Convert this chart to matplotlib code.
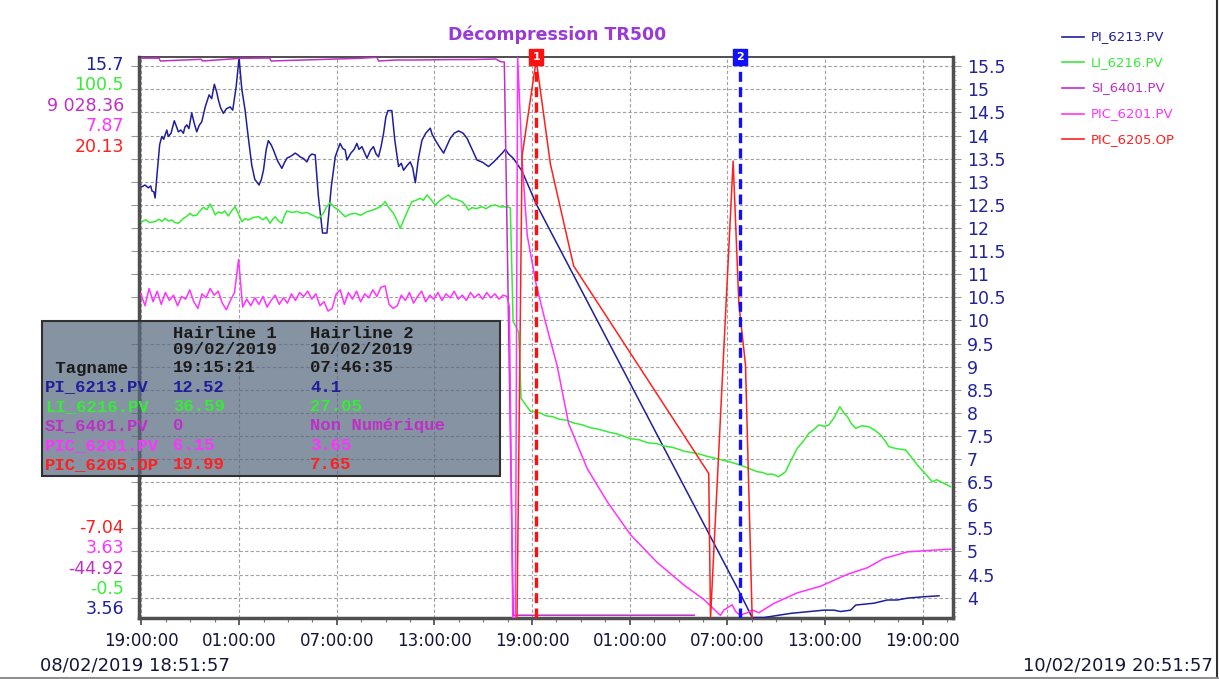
import datetime as dt

import numpy as np
import matplotlib
matplotlib.use("Agg")
import matplotlib.pyplot as plt
from matplotlib.lines import Line2D
from matplotlib.patches import Rectangle
from matplotlib.ticker import FixedLocator, FuncFormatter

plt.rcParams['font.family'] = 'DejaVu Sans'

W, H = 1219, 679
# plot frame in pixels
X0, X1, Y0, Y1 = 139.3, 953.0, 57.0, 618.0

START = dt.datetime(2019, 2, 8, 18, 51, 57)
SPAN_H = 50.0

TITLE = "Décompression TR500"
pens = ["PI_6213.PV", "LI_6216.PV", "SI_6401.PV", "PIC_6201.PV", "PIC_6205.OP"]
colors = ["#1f1f9c", "#36ec36", "#bf2fc8", "#ff33ff", "#ff1f1f"]
scale_lo = [3.56, -0.5, -44.92, 3.63, -7.04]
scale_hi = [15.7, 100.5, 9028.36, 7.87, 20.13]
lo_labels = ["3.56", "-0.5", "-44.92", "3.63", "-7.04"]
hi_labels = ["15.7", "100.5", "9 028.36", "7.87", "20.13"]

hairlines = ["09/02/2019 19:15:21", "10/02/2019 07:46:35"]
hair1_vals = ["12.52", "36.59", "0", "6.15", "19.99"]
hair2_vals = ["4.1", "27.05", "Non Numérique", "3.65", "7.65"]

# hours since START
pi_t = [0.15, 0.35, 0.55, 0.70, 0.78, 0.90, 0.97, 1.10, 1.25, 1.38, 1.50, 1.69, 1.78, 1.95, 2.15,
        2.28, 2.40, 2.55, 2.71, 2.80, 2.92, 3.05, 3.22, 3.35, 3.53, 3.68, 3.84, 4.05, 4.29, 4.45,
        4.61, 4.75, 4.86, 5.00, 5.17, 5.35, 5.58, 5.74, 5.95, 6.13, 6.30, 6.50, 6.70, 6.91, 7.10,
        7.36, 7.50, 7.63, 7.80, 7.93, 8.10, 8.24, 8.50, 8.76, 8.90, 9.07, 9.30, 9.58, 9.75, 9.88,
        10.10, 10.30, 10.45, 10.60, 10.81, 11.00, 11.26, 11.53, 11.80, 12.04, 12.20, 12.34, 12.50,
        12.65, 12.76, 13.00, 13.20, 13.37, 13.50, 13.68, 13.85, 13.99, 14.20, 14.39, 14.55, 14.70,
        14.85, 15.01, 15.15, 15.28, 15.52, 15.70, 15.93, 16.10, 16.24, 16.45, 16.65, 16.80, 16.96,
        17.15, 17.37, 17.60, 17.88, 18.00, 18.19, 18.45, 18.70, 18.90, 19.11, 19.35, 19.62, 19.90,
        20.14, 20.45, 20.75, 21.10, 21.46, 21.75, 22.08, 22.30, 22.49, 22.70, 23.00, 23.52, 24.39,
        36.91, 37.66, 38.38, 40.02, 42.07, 42.68, 43.09, 43.71, 44.02, 45.14, 45.97, 46.58, 47.20,
        48.22, 49.14]
pi_v = [12.89, 12.93, 12.87, 12.91, 12.80, 12.78, 12.65, 13.20, 13.80, 13.98, 13.92, 14.12, 13.98,
        14.05, 14.32, 14.20, 14.08, 14.12, 14.05, 14.18, 14.23, 14.15, 14.49, 14.30, 14.08, 14.22,
        14.30, 14.62, 14.88, 14.80, 15.11, 14.95, 14.77, 14.60, 14.48, 14.58, 14.62, 14.55, 15.05,
        15.68, 15.00, 14.55, 13.95, 13.36, 13.05, 12.93, 13.05, 13.25, 13.70, 13.89, 13.80, 13.69,
        13.45, 13.29, 13.40, 13.51, 13.55, 13.62, 13.58, 13.54, 13.50, 13.43, 13.55, 13.60, 13.58,
        12.70, 11.89, 11.89, 12.90, 13.54, 13.70, 13.83, 13.72, 13.69, 13.47, 13.62, 13.70, 13.83,
        13.70, 13.76, 13.62, 13.51, 13.68, 13.76, 13.60, 13.54, 13.75, 14.05, 14.40, 14.54, 14.54,
        13.90, 13.33, 13.40, 13.25, 13.35, 13.43, 13.30, 12.98, 13.50, 13.90, 14.05, 14.16, 14.02,
        13.90, 13.75, 13.62, 13.78, 13.94, 14.05, 14.10, 14.05, 13.94, 13.70, 13.47, 13.42, 13.33,
        13.42, 13.54, 13.62, 13.70, 13.60, 13.50, 13.23, 12.52, 4.10, 3.57, 3.57, 3.66, 3.73, 3.73,
        3.70, 3.73, 3.84, 3.88, 3.95, 3.95, 3.99, 4.02, 4.04]

li_t = [0.15, 0.40, 0.60, 0.97, 1.20, 1.40, 1.58, 1.80, 1.99, 2.20, 2.40, 2.70, 2.90, 3.12, 3.30,
        3.53, 3.70, 3.94, 4.15, 4.35, 4.50, 4.66, 4.85, 5.07, 5.25, 5.47, 5.70, 5.89, 6.10, 6.30,
        6.50, 6.70, 7.00, 7.32, 7.60, 7.80, 8.04, 8.20, 8.35, 8.55, 8.76, 8.90, 9.07, 9.40, 9.70,
        9.99, 10.30, 10.60, 10.80, 11.01, 11.30, 11.50, 11.73, 12.00, 12.24, 12.45, 12.65, 12.95,
        13.27, 13.60, 13.99, 14.30, 14.60, 14.85, 15.11, 15.35, 15.62, 15.85, 16.03, 16.30, 16.55,
        16.75, 17.00, 17.26, 17.45, 17.68, 17.90, 18.19, 18.45, 18.70, 19.00, 19.20, 19.45, 19.83,
        20.05, 20.23, 20.45, 20.70, 21.06, 21.30, 21.60, 21.88, 22.20, 22.60, 22.80, 22.97, 23.31,
        23.46, 24.03, 24.39, 24.64, 25.00, 25.40, 25.80, 26.29, 26.70, 27.20, 27.72, 28.20, 28.80,
        29.40, 30.18, 30.70, 31.30, 31.80, 32.23, 32.80, 33.50, 34.28, 34.90, 35.60, 36.30, 36.91,
        37.40, 37.97, 38.30, 38.59, 38.90, 39.30, 39.71, 40.10, 40.43, 40.80, 41.14, 41.40, 41.76,
        42.10, 42.37, 42.70, 43.05, 43.30, 43.51, 43.75, 44.02, 44.40, 44.83, 45.20, 45.55, 45.80,
        46.06, 46.50, 47.09, 47.40, 47.81, 48.20, 48.73, 49.00, 49.24, 49.55, 49.86]
li_v = [70.85, 71.20, 70.70, 70.85, 71.30, 70.90, 71.46, 70.95, 71.16, 70.70, 70.56, 71.40, 71.80,
        72.36, 71.90, 72.06, 72.70, 73.44, 73.00, 74.04, 73.20, 72.06, 72.60, 72.36, 72.80, 71.88,
        72.90, 73.55, 72.20, 70.85, 71.40, 71.16, 71.60, 71.75, 71.20, 71.70, 70.56, 71.30, 71.75,
        71.00, 70.56, 71.80, 72.78, 72.50, 72.70, 72.36, 72.50, 72.06, 71.80, 71.46, 72.30, 73.50,
        74.27, 73.40, 72.96, 72.30, 71.75, 72.20, 72.36, 72.00, 72.65, 72.90, 73.26, 73.60, 74.45,
        73.30, 72.36, 71.00, 69.66, 71.50, 73.20, 74.45, 74.70, 75.06, 74.70, 75.66, 74.90, 73.86,
        74.60, 75.10, 75.66, 75.00, 74.90, 74.45, 73.80, 72.96, 73.40, 73.20, 73.55, 73.20, 73.70,
        73.86, 73.50, 73.55, 73.32, 52.90, 50.92, 39.04, 36.73, 36.59, 36.41, 35.90, 35.75, 35.30,
        35.08, 34.60, 34.30, 33.76, 33.50, 33.00, 32.60, 31.78, 31.60, 31.00, 30.90, 30.47, 30.20,
        29.50, 29.13, 28.60, 28.10, 27.60, 27.05, 26.50, 25.84, 25.70, 25.37, 25.40, 24.94, 25.84,
        28.20, 30.05, 31.30, 32.75, 33.30, 34.25, 34.00, 34.25, 35.60, 37.54, 36.40, 35.74, 34.50,
        33.65, 34.10, 33.94, 33.30, 32.45, 31.50, 30.34, 30.00, 29.75, 28.60, 27.05, 25.80, 24.04,
        24.40, 24.04, 23.60, 23.14]

si_t = [0.15, 1.20, 1.30, 3.80, 3.90, 6.20, 8.00, 8.10, 13.50, 14.60, 14.70, 15.80, 17.00, 19.20,
        20.50, 21.90, 22.20, 22.43, 22.98, 34.10]
si_v = [9010, 9010, 8964, 8991, 8964, 9007, 9012, 8964, 9007, 9023, 8964, 8980, 8980, 8987,
        8987, 8996, 8953, 8947, 0, 0]

# PIC_6201 before the trip, logged every 15 min
pic1_noise = [6.08, 5.99, 6.12, 6.02, 6.10, 6.00, 6.09, 6.03, 6.07, 5.99, 6.06, 6.04, 6.11, 6.02,
              5.97, 6.08, 6.05, 6.12, 6.07, 6.10, 6.01, 5.96, 6.03, 6.09, 6.34, 5.98, 6.04, 5.99,
              6.05, 6.00, 6.06, 5.98, 6.03, 6.07, 6.00, 6.05, 6.01, 6.08, 6.03, 6.09, 6.06, 6.10,
              6.04, 6.08, 5.99, 6.02, 5.95, 5.97, 6.08, 6.11, 6.00, 6.09, 6.04, 6.10, 6.02, 6.08,
              6.05, 6.11, 6.06, 6.13, 6.14, 6.00, 5.97, 5.99, 6.07, 6.03, 6.09, 6.01, 6.06, 6.10,
              6.02, 6.07, 6.04, 6.09, 6.03, 6.08, 6.05, 6.10, 6.04, 6.07, 6.03, 6.09, 6.05, 6.08,
              6.04, 6.09, 6.05, 6.08, 6.04, 6.07, 6.06]
pic1_t_after = [22.74, 22.95, 23.11, 23.25, 23.52, 23.84, 24.39, 24.95, 25.67, 26.38, 27.52, 28.75,
                30.18, 31.82, 33.46, 34.69, 35.71, 35.92, 36.43, 36.64, 36.91, 37.36, 37.66, 38.07,
                38.99, 40.43, 41.86, 43.51, 44.74, 45.76, 47.20, 48.43, 49.86]
pic1_v_after = [5.98, 3.63, 3.63, 7.87, 7.09, 6.52, 6.15, 5.87, 5.54, 5.10, 4.76, 4.51, 4.26, 4.05,
                3.88, 3.77, 3.65, 3.69, 3.73, 3.68, 3.65, 3.67, 3.69, 3.67, 3.74, 3.82, 3.87, 3.96,
                4.01, 4.08, 4.13, 4.14, 4.15]

pic2_t = [23.21, 23.52, 24.39, 25.26, 26.69, 34.99, 35.10, 36.49, 36.84, 37.25, 37.66]
pic2_v = [-7.04, 15.33, 19.99, 14.95, 10.01, -0.04, -7.04, 15.09, 8.20, 5.21, -7.04]

pic1_t = list(np.linspace(0.1, 22.6, len(pic1_noise))) + pic1_t_after
pic1_v = pic1_noise + pic1_v_after
series = [(pi_t, pi_v), (li_t, li_v), (si_t, si_v), (pic1_t, pic1_v), (pic2_t, pic2_v)]


def hours(stamp):
    d = dt.datetime.strptime(stamp, "%d/%m/%Y %H:%M:%S")
    return (d - START).total_seconds() / 3600


def to_axis(v, lo, hi):
    # every pen is drawn on its own min/max scale, sharing the PI_6213 axis
    return scale_lo[0] + (np.asarray(v) - lo) / (hi - lo) * (scale_hi[0] - scale_lo[0])


def fx(x):
    return x / W


def fy(y):
    return 1 - y / H


def clock(h, pos=None):
    s = int(round(h * 3600))
    return (START + dt.timedelta(seconds=s)).strftime("%H:%M:%S")


fig = plt.figure(figsize=(W / 100, H / 100), dpi=100)
ax = fig.add_axes([fx(X0), fy(Y1), (X1 - X0) / W, (Y1 - Y0) / H])

for (t, v), c, lo, hi in zip(series, colors, scale_lo, scale_hi):
    ax.plot(t, to_axis(v, lo, hi), color=c, lw=1.1, zorder=3)

ax.set_xlim(0, SPAN_H)
ax.set_ylim(scale_lo[0], scale_hi[0])

first = (19 * 3600 - (18 * 3600 + 51 * 60 + 57)) / 3600
ax.xaxis.set_major_locator(FixedLocator([first + 6 * k for k in range(9)]))
ax.xaxis.set_minor_locator(FixedLocator([first + 1.5 * k for k in range(34) if k % 4]))
ax.xaxis.set_major_formatter(FuncFormatter(clock))
ax.yaxis.set_major_locator(FixedLocator(np.arange(4, 15.51, 0.5)))
ax.yaxis.set_minor_locator(FixedLocator(np.arange(3.6, 15.7, 0.1)))
ax.yaxis.set_major_formatter(FuncFormatter(lambda v, p: f"{v:g}"))

ax.tick_params(axis='x', which='major', length=5, width=1.2, color='#444444', pad=5,
               labelsize=12, labelcolor='#15153a')
ax.tick_params(axis='x', which='minor', length=3, width=0.8, color='#777777')
ax.tick_params(axis='y', which='major', left=True, right=True, labelleft=False, labelright=True,
               length=6, width=0.8, color='#999999', pad=4, labelsize=12.5, labelcolor='#23239a')
ax.tick_params(axis='y', which='minor', left=False, right=True, length=2.5, width=0.6,
               color='#aaaaaa')

ax.grid(True, which='major', color='#a0a0a0', linestyle=(0, (3, 2)), linewidth=0.8, zorder=0)
for side in ['left', 'bottom', 'right']:
    ax.spines[side].set_color('#505050')
    ax.spines[side].set_linewidth(2.5)
ax.spines['top'].set_color('#404040')
ax.spines['top'].set_linewidth(1.3)

# hairlines with their numbered tags
for k, (stamp, c) in enumerate(zip(hairlines, ['#ff1010', '#1010ff'])):
    th = hours(stamp)
    ax.axvline(th, color=c, lw=2.4, linestyle=(0, (3, 1.6)), zorder=4)
    ax.text(th, 1.0, str(k + 1), transform=ax.get_xaxis_transform(), ha='center', va='center',
            color='white', fontsize=8, fontweight='bold', clip_on=False, zorder=6,
            bbox=dict(boxstyle='square,pad=0.3', fc=c, ec=c))

fig.text(fx(557), fy(35), TITLE, ha='center', va='center', fontsize=12.5, fontweight='bold',
         color='#9a3ad6')

# min / max scale labels of each pen
for i, c in enumerate(colors):
    fig.text(fx(124), fy(65 + 20.4 * i), hi_labels[i], ha='right', va='center', fontsize=12.5,
             color=c)
    fig.text(fx(124), fy(609.3 - 20.3 * i), lo_labels[i], ha='right', va='center', fontsize=12.5,
             color=c)

# legend
for i, (name, c) in enumerate(zip(pens, colors)):
    y = fy(36.5 + 25.7 * i)
    fig.add_artist(Line2D([fx(1062), fx(1084)], [y, y], color=c, lw=1.2))
    fig.text(fx(1091), y, name, ha='left', va='center', fontsize=9.5, color=c)

# hairline value table
fig.add_artist(Rectangle((fx(42), fy(476)), (500 - 42) / W, (476 - 321) / H,
                         transform=fig.transFigure, fc='#586980', ec='none', alpha=0.72,
                         zorder=5))
fig.add_artist(Rectangle((fx(42), fy(476)), (500 - 42) / W, (476 - 321) / H,
                         transform=fig.transFigure, fc='none', ec='#303030', lw=1.5, zorder=5))
mono = dict(family='Liberation Mono', fontsize=12.4, fontweight='bold', va='center', zorder=6)
d1, h1 = hairlines[0].split()
d2, h2 = hairlines[1].split()
fig.text(fx(173), fy(334), "Hairline 1", color='#1a1a1a', **mono)
fig.text(fx(310), fy(334), "Hairline 2", color='#1a1a1a', **mono)
fig.text(fx(173), fy(350), d1, color='#1a1a1a', **mono)
fig.text(fx(310), fy(350), d2, color='#1a1a1a', **mono)
fig.text(fx(45), fy(368), " Tagname", color='#1a1a1a', **mono)
fig.text(fx(173), fy(368), h1, color='#1a1a1a', **mono)
fig.text(fx(310), fy(368), h2, color='#1a1a1a', **mono)
for i, c in enumerate(colors):
    y = fy(387 + 19.4 * i)
    fig.text(fx(45), y, pens[i], color=c, **mono)
    fig.text(fx(173), y, hair1_vals[i], color=c, **mono)
    fig.text(fx(310), y, hair2_vals[i], color=c, **mono)

# time span of the view
fig.text(fx(40), fy(665), START.strftime("%d/%m/%Y %H:%M:%S"), ha='left', va='center',
         fontsize=13, color='#15153a')
end = START + dt.timedelta(hours=SPAN_H)
fig.text(fx(1213), fy(665), end.strftime("%d/%m/%Y %H:%M:%S"), ha='right', va='center',
         fontsize=13, color='#15153a')

fig.add_artist(Line2D([fx(1216.5)] * 2, [0, 1], color='#303030', lw=1.5))
fig.add_artist(Line2D([0, 1], [fy(677.5)] * 2, color='#909090', lw=1.5))

fig.savefig("out.png", dpi=100)
